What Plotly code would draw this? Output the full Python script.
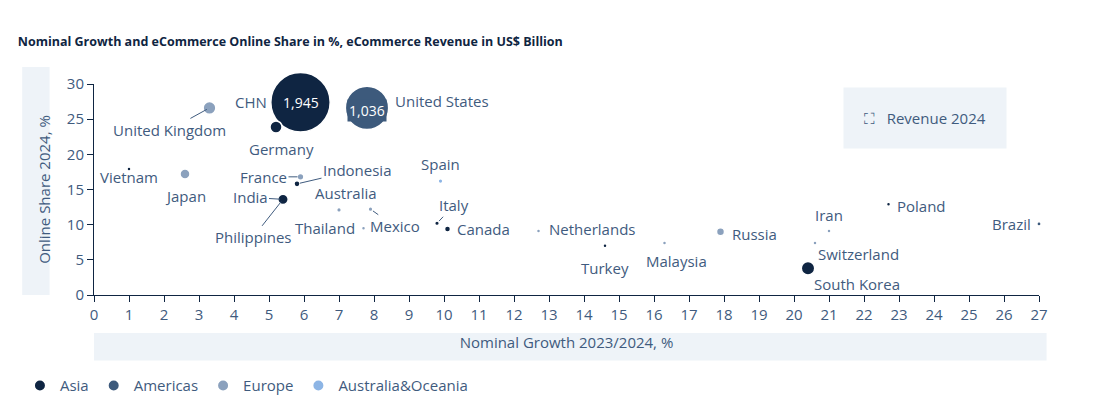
import plotly.graph_objects as go

countries = ['China', 'United States', 'United Kingdom', 'Germany', 'Vietnam', 'Japan', 'France',
             'Indonesia', 'India', 'Philippines', 'Spain', 'Australia', 'Mexico', 'Thailand', 'Italy',
             'Canada', 'Netherlands', 'Turkey', 'Malaysia', 'Russia', 'Iran', 'Switzerland',
             'South Korea', 'Poland', 'Brazil']
labels = ['CHN', 'United States', 'United Kingdom', 'Germany', 'Vietnam', 'Japan', 'France',
          'Indonesia', 'India', 'Philippines', 'Spain', 'Australia', 'Mexico', 'Thailand', 'Italy',
          'Canada', 'Netherlands', 'Turkey', 'Malaysia', 'Russia', 'Iran', 'Switzerland',
          'South Korea', 'Poland', 'Brazil']
growth = [5.9, 7.8, 3.3, 5.2, 1.0, 2.6, 5.9, 5.8, 5.4, 5.4, 9.9, 7.0, 7.9, 7.7, 9.8,
          10.1, 12.7, 14.6, 16.3, 17.9, 21.0, 20.6, 20.4, 22.7, 27.0]
share = [27.4, 26.6, 26.6, 23.9, 17.9, 17.2, 16.8, 15.8, 13.6, 13.6, 16.2, 12.1, 12.2, 9.5, 10.2,
         9.4, 9.1, 7.0, 7.4, 9.0, 9.1, 7.4, 3.8, 12.9, 10.1]
revenue = [1945, 1036, 90, 80, 3, 55, 25, 20, 60, 60, 12, 12, 12, 6, 12,
           20, 6, 6, 5, 35, 5, 5, 100, 8, 10]
region = ['Asia', 'Americas', 'Europe', 'Asia', 'Asia', 'Europe', 'Europe', 'Asia', 'Asia', 'Asia',
          'Australia&Oceania', 'Europe', 'Europe', 'Europe', 'Asia', 'Asia', 'Europe', 'Asia',
          'Europe', 'Europe', 'Europe', 'Europe', 'Asia', 'Asia', 'Americas']

colors = {'Asia': '#0f2542', 'Americas': '#3d5a7c', 'Europe': '#8ba1bd', 'Australia&Oceania': '#8db5e5'}
# label offsets in px (ax, ay)
offsets = {
    'China': (-50, 0), 'United States': (0, 0), 'United Kingdom': (-40, 22), 'Germany': (5, 22),
    'Vietnam': (0, 8), 'Japan': (0, 22), 'France': (-37, 0), 'Indonesia': (60, -14),
    'India': (-33, -2), 'Philippines': (-30, 38), 'Spain': (0, -17), 'Australia': (7, -17),
    'Mexico': (24, 17), 'Thailand': (-39, 0), 'Italy': (17, -18), 'Canada': (36, 0),
    'Netherlands': (53, -2), 'Turkey': (0, 22), 'Malaysia': (12, 18), 'Russia': (34, 2),
    'Iran': (0, -16), 'Switzerland': (43, 11), 'South Korea': (49, 16), 'Poland': (33, 2),
    'Brazil': (-28, 0)}
text_col = '#3f5b7e'

fig = go.Figure()
for reg in ['Asia', 'Americas', 'Europe', 'Australia&Oceania']:
    idx = [i for i, r in enumerate(region) if r == reg]
    fig.add_trace(go.Scatter(
        x=[growth[i] for i in idx], y=[share[i] for i in idx],
        mode='markers', name=reg, opacity=1, cliponaxis=False,
        marker=dict(size=[revenue[i] for i in idx], sizemode='area', sizeref=1945 / 42 ** 2, sizemin=2,
                    color=colors[reg], opacity=1, line=dict(color='white', width=1.5)),
        hovertext=[countries[i] for i in idx]))

for i, c in enumerate(countries):
    if c == 'United States':
        fig.add_annotation(x=growth[i], y=share[i], text='United States', showarrow=False,
                           xshift=75, yshift=7, font=dict(size=15, color=text_col))
        continue
    ax, ay = offsets[c]
    if c in ('United Kingdom', 'Indonesia', 'Philippines', 'Mexico', 'Italy', 'France', 'India'):
        fig.add_annotation(x=growth[i], y=share[i], text=labels[i], ax=ax, ay=ay, showarrow=True,
                           arrowhead=0, arrowwidth=1, arrowcolor='#3f5b7e', standoff=3,
                           font=dict(size=15, color=text_col))
    else:
        fig.add_annotation(x=growth[i], y=share[i], text=labels[i], showarrow=False,
                           xshift=ax, yshift=-ay, font=dict(size=15, color=text_col))

fig.add_annotation(x=growth[0], y=share[0], text='1,945', showarrow=False,
                   font=dict(size=14, color='white'))
fig.add_annotation(x=growth[1], y=share[1], text='1,036', showarrow=False, bgcolor=colors['Americas'],
                   yshift=-3, font=dict(size=14, color='white'))

fig.add_annotation(xref='paper', yref='paper', x=0.879, y=0.84, xanchor='center', yanchor='middle',
                   text='⛶   Revenue 2024', showarrow=False,
                   bgcolor='#eef3f8', borderpad=20, font=dict(size=15, color=text_col))

fig.add_shape(type='rect', xref='paper', yref='paper', x0=-0.076, x1=-0.047, y0=0, y1=1.08,
              fillcolor='#eef3f8', line_width=0, layer='below')
fig.add_shape(type='rect', xref='paper', yref='paper', x0=0, x1=1.008, y0=-0.18, y1=-0.31,
              fillcolor='#eef3f8', line_width=0, layer='below')

fig.update_layout(
    width=1085, height=401, plot_bgcolor='white', paper_bgcolor='white',
    font=dict(family='Open Sans', size=15, color=text_col),
    margin=dict(l=86, r=54, t=76, b=114),
    title=dict(text='<b>Nominal Growth and eCommerce Online Share in %, eCommerce Revenue in US$ Billion</b>',
               x=0.009, xanchor='left', y=0.915, yanchor='middle', font=dict(size=12.5, color='#0f2542')),
    xaxis=dict(range=[0, 27], dtick=1, showgrid=False, zeroline=False, showline=True, linecolor='#0f2542',
               ticks='outside', tickcolor='#0f2542', ticklen=6, automargin=False,
               title=dict(text='Nominal Growth 2023/2024, %', font=dict(size=15), standoff=14)),
    yaxis=dict(range=[0, 30], dtick=5, showgrid=False, zeroline=False, showline=True, linecolor='#0f2542',
               ticks='outside', tickcolor='#0f2542', ticklen=6, automargin=False,
               title=dict(text='Online Share 2024, %', font=dict(size=15), standoff=12)),
    legend=dict(orientation='h', x=0.011, xanchor='left', xref='container', y=0.017, yref='container',
                yanchor='bottom', font=dict(size=15, color=text_col), itemsizing='constant'),
    showlegend=True)

fig.write_html('out.html')
